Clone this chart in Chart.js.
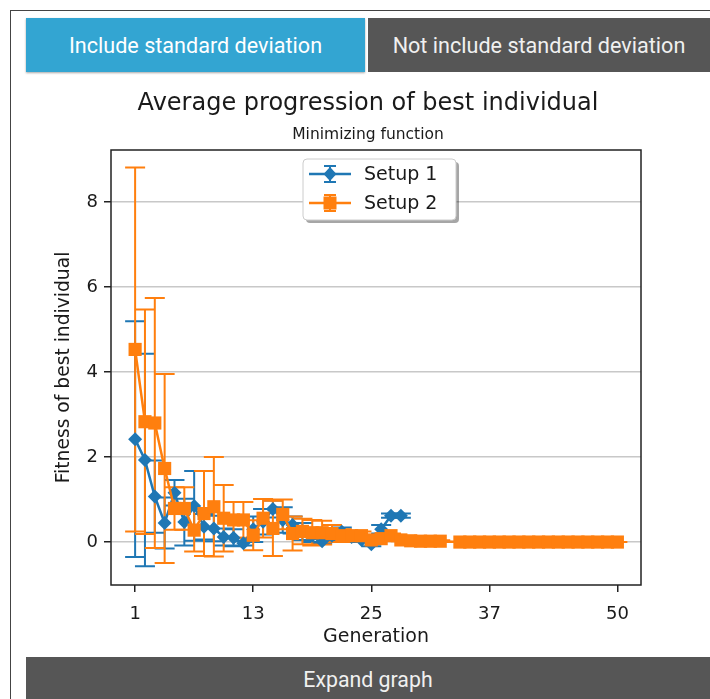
<!DOCTYPE html>
<html lang="en">
<head>
  <meta charset="UTF-8">
  <title>Average progression of best individual</title>
  <style>
    body {
      margin: 0;
      background: #fff;
      overflow: hidden;
      font-family: Roboto, "Noto Sans", sans-serif;
    }

    .frame {
      position: absolute;
      left: 10px;
      top: 10px;
      width: 760px;
      height: 760px;
      border: 1px solid #444;
    }

    .btn {
      position: absolute;
      top: 18px;
      height: 54px;
      line-height: 55px;
      text-align: center;
      color: #fff;
      font-size: 21.6px;
    }

    .btn-std {
      left: 26px;
      width: 339px;
      background: #33a5d2;
      box-shadow: 0 1px 2px rgba(0, 0, 0, 0.35);
    }

    .btn-nostd {
      left: 368px;
      width: 342px;
      background: #565656;
      color: #f0f0f0;
    }

    .chart-box {
      position: absolute;
      left: 26px;
      top: 80px;
      width: 684px;
      height: 575px;
    }

    .expand {
      position: absolute;
      left: 26px;
      top: 657px;
      width: 684px;
      height: 46px;
      line-height: 46px;
      text-align: center;
      background: #565656;
      color: #f0f0f0;
      font-size: 21.3px;
    }
  </style>
</head>
<body>
  <div class="frame"></div>
  <div class="btn btn-std">Include standard deviation</div>
  <div class="btn btn-nostd">Not include standard deviation</div>
  <div class="chart-box"><canvas id="progressChart"></canvas></div>
  <div class="expand">Expand graph</div>

  <script src="https://cdn.jsdelivr.net/npm/chart.js"></script>
  <script>
    // values
    const seriesNames = ['Setup 1', 'Setup 2'];
    const seriesColors = ['#1f77b4', '#ff7f0e'];

    const gen1 = [1, 2, 3, 4, 5, 6, 7, 8, 9, 10, 11, 12, 13, 14,
                  15, 16, 17, 18, 19, 20, 21, 22, 23, 24, 25, 26, 27, 28];
    const mean1 = [2.42, 1.93, 1.07, 0.45, 1.16, 0.47, 0.85, 0.36, 0.32, 0.12, 0.10, -0.03, 0.30, 0.48,
                   0.78, 0.52, 0.40, 0.25, 0.15, 0.02, 0.15, 0.24, 0.12, 0.05, -0.05, 0.30, 0.62, 0.62];
    const std1 = [2.77, 2.50, 0.85, 0.60, 0.30, 0.55, 0.82, 0.30, 0.30, 0.20, 0.20, 0.05, 0.30, 0.30,
                  0.20, 0.30, 0.20, 0.20, 0.15, 0.05, 0.10, 0.10, 0.05, 0.05, 0.05, 0.10, 0.05, 0.05];

    const gen2 = [1, 2, 3, 4, 5, 6, 7, 8, 9, 10, 11, 12, 13, 14, 15, 16,
                  17, 18, 19, 20, 21, 22, 23, 24, 25, 26, 27, 28, 29, 30, 31, 32,
                  34, 35, 36, 37, 38, 39, 40, 41, 42, 43, 44, 45, 46, 47, 48, 49, 50];
    const mean2 = [4.53, 2.83, 2.80, 1.73, 0.79, 0.79, 0.28, 0.67, 0.83, 0.56, 0.52, 0.52, 0.16, 0.56, 0.32, 0.65,
                   0.20, 0.25, 0.22, 0.22, 0.20, 0.15, 0.15, 0.15, 0.05, 0.08, 0.15, 0.05, 0.03, 0.02, 0.02, 0.02,
                   0, 0, 0, 0, 0, 0, 0, 0, 0, 0, 0, 0, 0, 0, 0, 0, 0];
    const std2 = [4.28, 2.64, 2.94, 2.22, 0.50, 0.50, 0.50, 1.00, 1.17, 0.78, 0.42, 0.42, 0.35, 0.45, 0.65, 0.35,
                  0.40, 0.30, 0.30, 0.28, 0.20, 0.15, 0.10, 0.10, 0.05, 0.05, 0.05, 0.03, 0.02, 0.02, 0.02, 0.02,
                  0, 0, 0, 0, 0, 0, 0, 0, 0, 0, 0, 0, 0, 0, 0, 0, 0];

    const xTicks = [1, 13, 25, 37, 50];
    const yTicks = [0, 2, 4, 6, 8];

    const textColor = '#1a1a1a';
    const capHalf = 10;

    // vertical error bars with caps, drawn under the lines
    const errorBars = {
      id: 'errorBars',
      beforeDatasetsDraw(chart) {
        const { ctx, chartArea: a } = chart;
        const yScale = chart.scales.y;
        ctx.save();
        ctx.beginPath();
        ctx.rect(a.left, a.top, a.width, a.height);
        ctx.clip();
        [std1, std2].forEach((std, d) => {
          const meta = chart.getDatasetMeta(d);
          const pts = chart.data.datasets[d].data;
          ctx.strokeStyle = seriesColors[d];
          ctx.lineWidth = 2;
          meta.data.forEach((el, i) => {
            const top = yScale.getPixelForValue(pts[i].y + std[i]);
            const bot = yScale.getPixelForValue(pts[i].y - std[i]);
            ctx.beginPath();
            ctx.moveTo(el.x, top);
            ctx.lineTo(el.x, bot);
            ctx.moveTo(el.x - capHalf, top);
            ctx.lineTo(el.x + capHalf, top);
            ctx.moveTo(el.x - capHalf, bot);
            ctx.lineTo(el.x + capHalf, bot);
            ctx.stroke();
          });
        });
        ctx.restore();
      }
    };

    function drawMarker(ctx, kind, x, y) {
      ctx.beginPath();
      if (kind === 0) {
        ctx.moveTo(x, y - 7);
        ctx.lineTo(x + 6.5, y);
        ctx.lineTo(x, y + 7);
        ctx.lineTo(x - 6.5, y);
        ctx.closePath();
      } else {
        ctx.rect(x - 6.5, y - 6.5, 13, 13);
      }
      ctx.fill();
    }

    function roundRect(ctx, x, y, w, h, r) {
      ctx.beginPath();
      ctx.moveTo(x + r, y);
      ctx.arcTo(x + w, y, x + w, y + h, r);
      ctx.arcTo(x + w, y + h, x, y + h, r);
      ctx.arcTo(x, y + h, x, y, r);
      ctx.arcTo(x, y, x + w, y, r);
      ctx.closePath();
    }

    // axes frame and matplotlib-like legend inside the plot
    const frameAndLegend = {
      id: 'frameAndLegend',
      afterDraw(chart) {
        const { ctx, chartArea: a } = chart;
        ctx.save();
        ctx.strokeStyle = '#222';
        ctx.lineWidth = 1.5;
        ctx.strokeRect(a.left, a.top, a.width, a.height);

        const bx = a.left + 192, by = a.top + 9, bw = 153, bh = 61;
        ctx.fillStyle = 'rgba(0,0,0,0.35)';
        roundRect(ctx, bx + 3, by + 3, bw, bh, 4);
        ctx.fill();
        ctx.fillStyle = '#fff';
        roundRect(ctx, bx, by, bw, bh, 4);
        ctx.fill();
        ctx.strokeStyle = '#cccccc';
        ctx.lineWidth = 1;
        ctx.stroke();

        seriesNames.forEach((name, i) => {
          const cy = by + 15 + i * 29;
          const hx = bx + 27;
          ctx.strokeStyle = seriesColors[i];
          ctx.fillStyle = seriesColors[i];
          ctx.lineWidth = 2.5;
          ctx.beginPath();
          ctx.moveTo(hx - 21, cy);
          ctx.lineTo(hx + 21, cy);
          ctx.stroke();
          ctx.lineWidth = 2;
          ctx.beginPath();
          ctx.moveTo(hx, cy - 8);
          ctx.lineTo(hx, cy + 8);
          ctx.moveTo(hx - 6, cy - 8);
          ctx.lineTo(hx + 6, cy - 8);
          ctx.moveTo(hx - 6, cy + 8);
          ctx.lineTo(hx + 6, cy + 8);
          ctx.stroke();
          drawMarker(ctx, i, hx, cy);
          ctx.fillStyle = textColor;
          ctx.font = '19px "DejaVu Sans"';
          ctx.textBaseline = 'middle';
          ctx.textAlign = 'left';
          ctx.fillText(name, bx + 61, cy + 1);
        });
        ctx.restore();
      }
    };

    const ctx = document.getElementById('progressChart').getContext('2d');
    new Chart(ctx, {
      type: 'line',
      data: {
        datasets: [{
          label: seriesNames[0],
          data: gen1.map((g, i) => ({ x: g, y: mean1[i] })),
          borderColor: seriesColors[0],
          backgroundColor: seriesColors[0],
          borderWidth: 2.5,
          pointStyle: 'rectRot',
          pointRadius: 7,
          pointBorderWidth: 0,
          order: 1
        }, {
          label: seriesNames[1],
          data: gen2.map((g, i) => ({ x: g, y: mean2[i] })),
          borderColor: seriesColors[1],
          backgroundColor: seriesColors[1],
          borderWidth: 2.5,
          pointStyle: 'rect',
          pointRadius: 9.3,
          pointBorderWidth: 0,
          order: 0
        }]
      },
      options: {
        responsive: true,
        maintainAspectRatio: false,
        animation: false,
        events: [],
        layout: { padding: 0 },
        plugins: {
          legend: { display: false },
          tooltip: { enabled: false },
          title: {
            display: true,
            text: 'Average progression of best individual',
            color: textColor,
            font: { family: 'DejaVu Sans', size: 24, weight: 'normal', lineHeight: 1.2 },
            padding: { top: 9.6, bottom: 0 }
          },
          subtitle: {
            display: true,
            text: 'Minimizing function',
            color: textColor,
            font: { family: 'DejaVu Sans', size: 15.5, weight: 'normal', lineHeight: 1.2 },
            padding: { top: 7.3, bottom: 5.7 }
          }
        },
        scales: {
          x: {
            type: 'linear',
            min: -1.45,
            max: 52.4,
            afterBuildTicks: s => { s.ticks = xTicks.map(v => ({ value: v })); },
            afterFit: s => { s.height = 70; },
            border: { display: false },
            grid: { drawOnChartArea: false, drawTicks: true, tickLength: 7, tickColor: '#222', lineWidth: 1.5 },
            ticks: {
              color: textColor,
              font: { family: 'DejaVu Sans', size: 18 },
              padding: 12,
              autoSkip: false,
              maxRotation: 0
            },
            title: {
              display: true,
              text: 'Generation',
              color: textColor,
              font: { family: 'DejaVu Sans', size: 19, lineHeight: 1.2 },
              padding: { top: 0, bottom: 7 }
            }
          },
          y: {
            min: -1.01,
            max: 9.22,
            afterBuildTicks: s => { s.ticks = yTicks.map(v => ({ value: v })); },
            afterFit: s => { s.width = 85; },
            border: { display: false },
            grid: { color: '#c8c8c8', lineWidth: 1.5, drawTicks: true, tickLength: 7, tickColor: '#222' },
            ticks: {
              color: textColor,
              font: { family: 'DejaVu Sans', size: 18 },
              padding: 6
            },
            title: {
              display: true,
              text: 'Fitness of best individual',
              color: textColor,
              font: { family: 'DejaVu Sans', size: 18.7, lineHeight: 1.2 },
              padding: { top: 27, bottom: 0 }
            }
          },
          // empty right-hand box so the plot ends where the picture's frame does
          yRight: {
            position: 'right',
            display: true,
            afterFit: s => { s.width = 69; },
            border: { display: false },
            grid: { display: false },
            ticks: { display: false },
            title: { display: false }
          }
        }
      },
      plugins: [errorBars, frameAndLegend]
    });
  </script>
</body>
</html>
